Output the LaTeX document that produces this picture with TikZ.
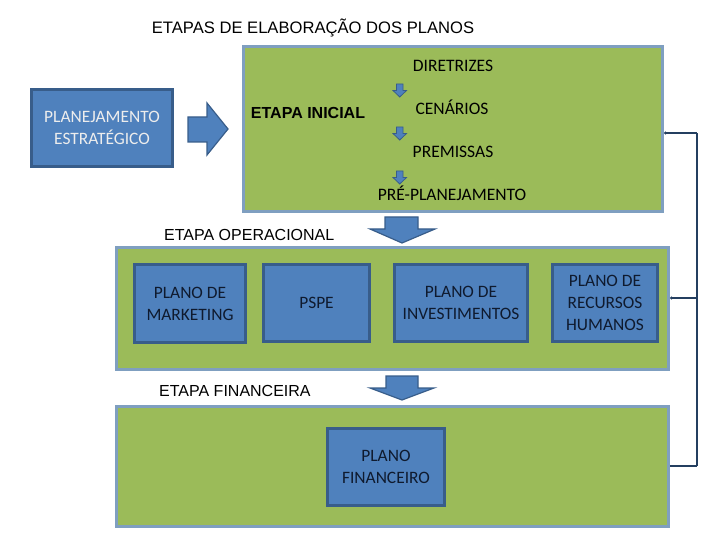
\documentclass[tikz,border=0pt]{standalone}
\usepackage{fontspec}
\setmainfont{Carlito}
\newfontfamily\arialf{Liberation Sans}
\usetikzlibrary{arrows.meta}
\definecolor{gfill}{HTML}{9BBB59}
\definecolor{gline}{HTML}{7F9FC0}
\definecolor{bfill}{HTML}{4F81BD}
\definecolor{bline}{HTML}{385D8A}
\definecolor{rail}{HTML}{243F60}
\definecolor{btext}{HTML}{0F1A2E}
\tikzset{
  greenbox/.style={draw=gline, fill=gfill, line width=3pt, inner sep=0pt, rectangle},
  bluebox/.style={draw=bline, fill=bfill, line width=2.5pt, inner sep=0pt, rectangle, align=center, text=btext, font=\fontsize{17.4}{22}\selectfont},
  blockarrow/.style={draw=bline, fill=bfill, line width=1.2pt, line join=miter},
  smallarrow/.style={draw=bline, fill=bfill, line width=0.8pt},
  greentext/.style={inner sep=0pt, font=\fontsize{17.5}{20}\selectfont},
  stagetext/.style={inner sep=0pt, font=\arialf\fontsize{16}{19}\selectfont},
  railline/.style={draw=rail, line width=1.1pt},
}
\begin{document}
\begin{tikzpicture}[x=1pt, y=-1pt]
\useasboundingbox (0,0) rectangle (720,540);
% title
\node[inner sep=0pt, font=\arialf\fontsize{16.6}{19}\selectfont] (title) at (313,28) {ETAPAS DE ELABORAÇÃO DOS PLANOS};
% green stage boxes
\node[greenbox, minimum width=419pt, minimum height=165pt] (ini) at (453,129) {};
\node[greenbox, minimum width=552pt, minimum height=122pt] (op) at (392.5,308.5) {};
\node[greenbox, minimum width=552pt, minimum height=120pt] (fin) at (392.5,466.5) {};
% stage labels
\node[stagetext, font=\arialf\bfseries\fontsize{16}{19}\selectfont] (tini) at (308,113) {ETAPA INICIAL};
\node[stagetext, anchor=west] (top) at (164,235) {ETAPA OPERACIONAL};
\node[stagetext, anchor=west] (tfin) at (159,391) {ETAPA FINANCEIRA};
% initial stage items
\node[greentext] (dir) at (453,66) {DIRETRIZES};
\node[greentext] (cen) at (452,107) {CENÁRIOS};
\node[greentext] (pre) at (453,152) {PREMISSAS};
\node[greentext] (ppl) at (452,193) {PRÉ-PLANEJAMENTO};
% small down arrows
\foreach \y in {84,127,171}{
  \filldraw[smallarrow] (396.5,\y) -- (403,\y) -- (403,\y+6.5) -- (406.5,\y+6.5) -- (399.75,\y+13) -- (393,\y+6.5) -- (396.5,\y+6.5) -- cycle;
}
% planejamento estrategico
\node[bluebox, minimum width=141pt, minimum height=77pt, text=white!93!black] (pe) at (102,128) {PLANEJAMENTO\\ESTRATÉGICO};
% big right arrow
\filldraw[blockarrow] (188,117) -- (207,117) -- (207,103) -- (228,129) -- (207,155) -- (207,142) -- (188,142) -- cycle;
% operational boxes
\node[bluebox, minimum width=111pt, minimum height=78pt] (mk) at (190,303.5) {PLANO DE\\MARKETING};
\node[bluebox, minimum width=106pt, minimum height=77pt] (pspe) at (316.5,303) {PSPE};
\node[bluebox, minimum width=133pt, minimum height=77pt] (inv) at (461,303) {PLANO DE\\INVESTIMENTOS};
\node[bluebox, minimum width=105pt, minimum height=77pt] (rh) at (605,303) {PLANO DE\\RECURSOS\\HUMANOS};
% financial box
\node[bluebox, minimum width=117pt, minimum height=77pt] (pf) at (386,467) {PLANO\\FINANCEIRO};
% down block arrows
\filldraw[blockarrow] (385,217) -- (418,217) -- (418,229) -- (435,229) -- (402,243) -- (370,229) -- (385,229) -- cycle;
\filldraw[blockarrow] (386,376) -- (418,376) -- (418,388) -- (434,388) -- (402,400) -- (370,388) -- (386,388) -- cycle;
% right rail
\coordinate (r1) at (697,133);
\coordinate (r2) at (697,298);
\coordinate (r3) at (697,466);
\draw[railline] (r1) -- (r3);
\draw[railline, -{Circle[length=3pt]}] (r1) -- (r1 -| ini.east);
\draw[railline, -{Circle[length=3pt]}] (r2) -- (r2 -| op.east);
\draw[railline] (r3) -- (r3 -| fin.east);
\end{tikzpicture}
\end{document}
